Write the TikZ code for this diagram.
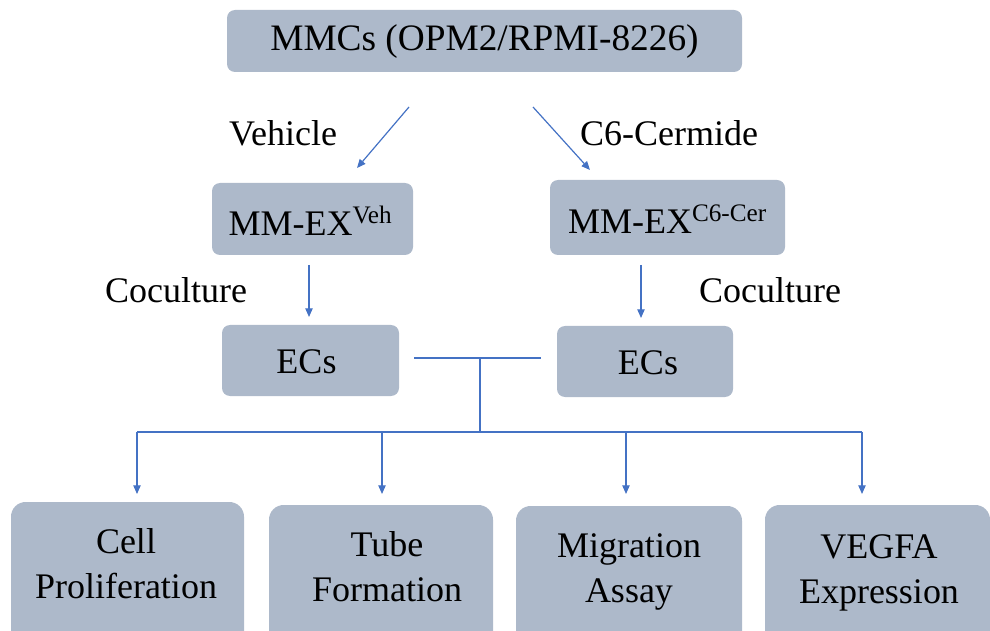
\documentclass[tikz,border=0pt]{standalone}
\usepackage{fontspec}
\setmainfont{Liberation Serif}
\usetikzlibrary{arrows.meta}
\definecolor{boxfill}{RGB}{173,185,202}
\definecolor{linkblue}{RGB}{68,114,196}
\begin{document}
\begin{tikzpicture}[x=0.75pt,y=-0.75pt,
  box/.style={fill=boxfill,draw=none,rounded corners=6pt,inner sep=0pt},
  txt/.style={font=\fontsize{27}{33.75}\selectfont,align=center,inner sep=0pt},
  link/.style={draw=linkblue,line width=0.9pt},
  arr/.style={link,-{Triangle[length=6.5pt,width=5.5pt]}}]
\useasboundingbox (0,0) rectangle (990,631);

% boxes
\node[box,minimum width=386.25pt,minimum height=46.5pt] (top) at (484.5,41) {};
\node[txt,font=\fontsize{28}{34}\selectfont] (toptxt) at (484.5,42) {MMCs (OPM2/RPMI-8226)};

\node[box,minimum width=150.75pt,minimum height=54pt] (veh) at (312.5,219) {};
\node[txt] (vehtxt) at (310.5,221) {MM-EX\textsuperscript{Veh}};

\node[box,minimum width=176.25pt,minimum height=56.25pt] (cer) at (667.5,217.5) {};
\node[txt] (certxt) at (667.5,219.5) {MM-EX\textsuperscript{C6-Cer}};

\node[box,minimum width=132.75pt,minimum height=53.25pt] (ecl) at (310.5,360.5) {};
\node[txt] (ecltxt) at (306.5,362) {ECs};
\node[box,minimum width=132pt,minimum height=53.25pt] (ecr) at (645,361.5) {};
\node[txt] (ecrtxt) at (648,363) {ECs};

\node[box,rounded corners=11pt,minimum width=174.75pt,minimum height=118.5pt] (b1) at (127.5,581) {};
\node[txt] (b1txt) at (126,564) {Cell\\Proliferation};
\node[box,rounded corners=11pt,minimum width=168pt,minimum height=116.25pt] (b2) at (381,582.5) {};
\node[txt] (b2txt) at (387,567) {Tube\\Formation};
\node[box,rounded corners=11pt,minimum width=169.5pt,minimum height=115.5pt] (b3) at (629,583) {};
\node[txt] (b3txt) at (629,572) {Migration\\Assay};
\node[box,rounded corners=11pt,minimum width=168.75pt,minimum height=116.25pt] (b4) at (877.5,582.5) {};
\node[txt] (b4txt) at (879,573) {VEGFA\\Expression};

% side labels
\node[txt] (lveh) at (283,133) {Vehicle};
\node[txt] (lcer) at (669,133) {C6-Cermide};
\node[txt] (lcol) at (176,290) {Coculture};
\node[txt] (lcor) at (770,290) {Coculture};

% connector points
\coordinate (va) at (409,107);
\coordinate (vb) at (357,168);
\coordinate (ca) at (533,107);
\coordinate (cb) at (590,170);
\coordinate (da) at (309,265);
\coordinate (db) at (309,317);
\coordinate (ea) at (641,265);
\coordinate (eb) at (641,318);
\coordinate (hl) at (414,358);
\coordinate (hr) at (541,358);
\coordinate (hm) at (480,358);
\coordinate (jm) at (480,432);
\coordinate (j1) at (137,432);
\coordinate (j2) at (382,432);
\coordinate (j3) at (626,432);
\coordinate (j4) at (862,432);
\coordinate (t1) at (137,494);
\coordinate (t2) at (382,494);
\coordinate (t3) at (626,494);
\coordinate (t4) at (862,494);

\draw[arr] (va) -- (vb);
\draw[arr] (ca) -- (cb);
\draw[arr] (da) -- (db);
\draw[arr] (ea) -- (eb);
\draw[link] (hl) -- (hr);
\draw[link] (hm) -- (jm);
\draw[link] (j1) -- (j4);
\draw[arr] (j1) -- (t1);
\draw[arr] (j2) -- (t2);
\draw[arr] (j3) -- (t3);
\draw[arr] (j4) -- (t4);
\end{tikzpicture}
\end{document}
